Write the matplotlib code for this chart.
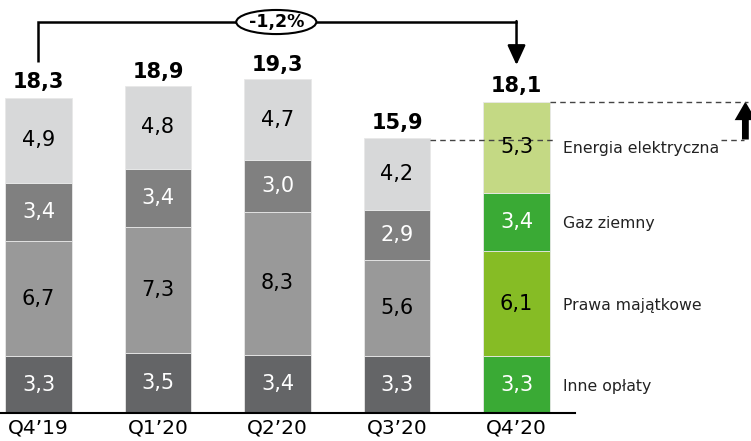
import numpy as np
import matplotlib.pyplot as plt
from matplotlib.patches import Ellipse

# -------- DATA --------
quarters = ["Q4\u201919", "Q1\u201920", "Q2\u201920", "Q3\u201920", "Q4\u201920"]
inne_oplaty = [3.3, 3.5, 3.4, 3.3, 3.3]
prawa_majatkowe = [6.7, 7.3, 8.3, 5.6, 6.1]
gaz_ziemny = [3.4, 3.4, 3.0, 2.9, 3.4]
energia_elektryczna = [4.9, 4.8, 4.7, 4.2, 5.3]
totals = [18.3, 18.9, 19.3, 15.9, 18.1]
change_label = "-1,2%"
segment_names = ["Inne opłaty", "Prawa majątkowe", "Gaz ziemny", "Energia elektryczna"]
# ----------------------

GRAYS = ["#646567", "#999999", "#808080", "#d7d8d9"]
GREENS = ["#3aaa35", "#86bc25", "#3aaa35", "#c4d984"]
TEXT_COLORS = ["white", "black", "white", "black"]


def fmt(v):
    return f"{v:.1f}".replace(".", ",")


def main():
    plt.rcParams["font.family"] = ["DejaVu Sans"]
    fig = plt.figure(figsize=(7.51, 4.41), dpi=100)
    ax = fig.add_axes([0, 28 / 441, 1, 413 / 441])
    ax.set_xlim(-0.322, 5.962)
    ax.set_ylim(0, 24.01)

    x = np.arange(len(quarters))
    width = 0.56
    layers = [inne_oplaty, prawa_majatkowe, gaz_ziemny, energia_elektryczna]
    bottom = np.zeros(len(quarters))
    for k, vals in enumerate(layers):
        vals = np.array(vals)
        colors = GRAYS[k:k + 1] * (len(quarters) - 1) + [GREENS[k]]
        ax.bar(x, vals, width, bottom=bottom, color=colors,
               edgecolor="#e8e8e8", linewidth=0.6)
        for i, v in enumerate(vals):
            ax.text(x[i], bottom[i] + v / 2, fmt(v), ha="center", va="center",
                    fontsize=15, color=TEXT_COLORS[k], zorder=5)
        bottom = bottom + vals

    # totals above the bars
    for i, t in enumerate(totals):
        ax.text(x[i], t + 0.35, fmt(t), ha="center", va="bottom",
                fontsize=15, fontweight="bold")

    # segment names next to the last bar
    last = len(quarters) - 1
    base = 0
    for k, vals in enumerate(layers):
        ax.text(x[last] + 0.39, base + vals[last] / 2 - 0.1, segment_names[k],
                ha="left", va="center", fontsize=11.3, color="#222222")
        base += vals[last]

    # bracket with the change between first and last quarter
    y_top = 22.73
    ax.plot([x[0], x[0], x[last]], [totals[0] + 2.1, y_top, y_top],
            color="black", lw=1.8, solid_joinstyle="miter",
            solid_capstyle="butt")
    ax.annotate("", xy=(x[last], totals[last] + 2.13), xytext=(x[last], y_top + 0.05),
                arrowprops=dict(arrowstyle="-|>,head_length=1.2,head_width=0.55",
                                mutation_scale=10, color="black", lw=1.8,
                                shrinkA=0, shrinkB=0))
    ax.add_patch(Ellipse((1.99, y_top), 0.67, 1.4, facecolor="white",
                         edgecolor="black", lw=1.5, zorder=3))
    ax.text(1.99, y_top, change_label, ha="center", va="center",
            fontsize=12.5, fontweight="bold", zorder=4)

    # dashed guide lines between Q3 and Q4 totals
    dash = dict(color="#444444", lw=1, ls=(0, (4, 3)), zorder=4)
    ax.plot([x[3] + width / 2, x[last] + width / 2 + 0.03], [totals[3]] * 2, **dash)
    ax.plot([5.71, 5.9], [totals[3]] * 2, **dash)
    ax.plot([x[last] + width / 2, 5.94], [totals[last]] * 2, **dash)
    ax.annotate("", xy=(5.915, totals[last]), xytext=(5.915, totals[3]),
                arrowprops=dict(arrowstyle="simple,head_length=1.9,head_width=2.2,tail_width=0.7",
                                mutation_scale=7, color="black", lw=0,
                                shrinkA=0, shrinkB=0))

    # axes styling
    for side in ["top", "right", "left"]:
        ax.spines[side].set_visible(False)
    ax.spines["bottom"].set_bounds(-0.322, 4.49)
    ax.spines["bottom"].set_linewidth(1.5)
    ax.set_xticks(x)
    ax.set_xticklabels(quarters, fontsize=14.5)
    ax.tick_params(axis="x", length=0, pad=4)
    ax.set_yticks([])

    fig.savefig("out.png", dpi=100)


if __name__ == "__main__":
    main()
